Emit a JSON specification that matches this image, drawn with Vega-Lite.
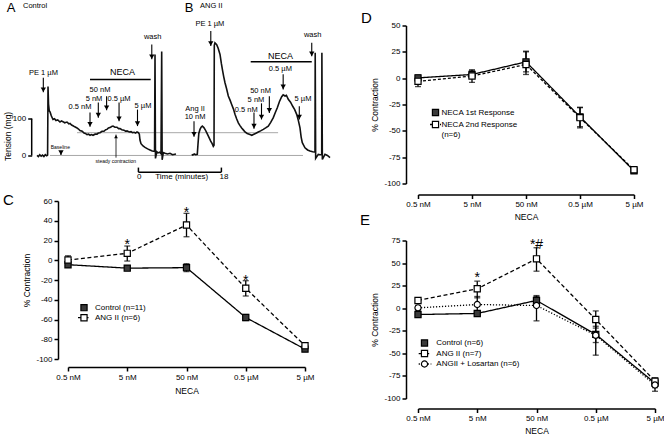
{
  "$schema": "https://vega.github.io/schema/vega-lite/v6.json",
  "padding": {"left": 3, "top": 1.5, "right": 0, "bottom": 0},
  "config": {
    "font": "Liberation Sans",
    "view": {"stroke": null},
    "axis": {"grid": false, "domainColor": "#000", "domainWidth": 1.5, "tickColor": "#000", "tickWidth": 1.5, "tickSize": 4, "labelFontSize": 8, "labelColor": "#000", "titleFontSize": 8.5, "titleFontWeight": "normal", "titleColor": "#000", "labelPadding": 2, "labelExpr": "replace(datum.label, '\u2212', '-')"},
    "title": {"fontWeight": "normal", "fontSize": 15, "anchor": "start", "frame": "group", "color": "#000"}
  },
  "datasets": {
    "traces": [
      {"p":"A","i":0,"t":0,"mg":0},{"p":"A","i":1,"t":0.3,"mg":-3},{"p":"A","i":2,"t":0.6,"mg":2},{"p":"A","i":3,"t":0.9,"mg":-2},{"p":"A","i":4,"t":1.2,"mg":1},{"p":"A","i":5,"t":1.5,"mg":-3},{"p":"A","i":6,"t":1.8,"mg":2},{"p":"A","i":7,"t":2.1,"mg":-1},{"p":"A","i":8,"t":2.3,"mg":1},{"p":"A","i":9,"t":2.39,"mg":188},{"p":"A","i":10,"t":2.5,"mg":140},{"p":"A","i":11,"t":2.65,"mg":122},{"p":"A","i":12,"t":2.85,"mg":118},{"p":"A","i":13,"t":3.1,"mg":108},{"p":"A","i":14,"t":3.47,"mg":98},{"p":"A","i":15,"t":3.8,"mg":100},{"p":"A","i":16,"t":4.12,"mg":95},{"p":"A","i":17,"t":4.5,"mg":97},{"p":"A","i":18,"t":4.99,"mg":91},{"p":"A","i":19,"t":5.3,"mg":94},{"p":"A","i":20,"t":5.64,"mg":92},{"p":"A","i":21,"t":6.0,"mg":89},{"p":"A","i":22,"t":6.51,"mg":91},{"p":"A","i":23,"t":6.9,"mg":86},{"p":"A","i":24,"t":7.16,"mg":87},{"p":"A","i":25,"t":7.5,"mg":83},{"p":"A","i":26,"t":7.81,"mg":81},{"p":"A","i":27,"t":8.2,"mg":78},{"p":"A","i":28,"t":8.68,"mg":75},{"p":"A","i":29,"t":9.0,"mg":72},{"p":"A","i":30,"t":9.33,"mg":68},{"p":"A","i":31,"t":9.8,"mg":66},{"p":"A","i":32,"t":10.2,"mg":61},{"p":"A","i":33,"t":10.5,"mg":60},{"p":"A","i":34,"t":10.85,"mg":57},{"p":"A","i":35,"t":11.2,"mg":58},{"p":"A","i":36,"t":11.5,"mg":55},{"p":"A","i":37,"t":11.8,"mg":57},{"p":"A","i":38,"t":12.15,"mg":55},{"p":"A","i":39,"t":12.6,"mg":58},{"p":"A","i":40,"t":13.02,"mg":58},{"p":"A","i":41,"t":13.3,"mg":61},{"p":"A","i":42,"t":13.67,"mg":62},{"p":"A","i":43,"t":14.1,"mg":66},{"p":"A","i":44,"t":14.53,"mg":66},{"p":"A","i":45,"t":14.9,"mg":70},{"p":"A","i":46,"t":15.18,"mg":71},{"p":"A","i":47,"t":15.5,"mg":75},{"p":"A","i":48,"t":15.84,"mg":76},{"p":"A","i":49,"t":16.2,"mg":79},{"p":"A","i":50,"t":16.49,"mg":80},{"p":"A","i":51,"t":16.9,"mg":77},{"p":"A","i":52,"t":17.35,"mg":77},{"p":"A","i":53,"t":17.7,"mg":73},{"p":"A","i":54,"t":18.0,"mg":73},{"p":"A","i":55,"t":18.4,"mg":70},{"p":"A","i":56,"t":18.87,"mg":69},{"p":"A","i":57,"t":19.2,"mg":66},{"p":"A","i":58,"t":19.52,"mg":67},{"p":"A","i":59,"t":20.0,"mg":64},{"p":"A","i":60,"t":20.39,"mg":65},{"p":"A","i":61,"t":20.7,"mg":62},{"p":"A","i":62,"t":21.04,"mg":63},{"p":"A","i":63,"t":21.4,"mg":61},{"p":"A","i":64,"t":21.69,"mg":64},{"p":"A","i":65,"t":22.0,"mg":62},{"p":"A","i":66,"t":22.2,"mg":58},{"p":"A","i":67,"t":22.34,"mg":42},{"p":"A","i":68,"t":22.56,"mg":32},{"p":"A","i":69,"t":23.0,"mg":26},{"p":"A","i":70,"t":23.43,"mg":22},{"p":"A","i":71,"t":24.0,"mg":18},{"p":"A","i":72,"t":24.51,"mg":15},{"p":"A","i":73,"t":25.0,"mg":12},{"p":"A","i":74,"t":25.5,"mg":11},{"p":"A","i":75,"t":25.6,"mg":275},{"p":"A","i":76,"t":25.7,"mg":-8},{"p":"A","i":77,"t":26.0,"mg":10},{"p":"A","i":78,"t":26.25,"mg":7},{"p":"A","i":79,"t":26.6,"mg":9},{"p":"A","i":80,"t":26.9,"mg":5},{"p":"A","i":81,"t":27.05,"mg":283},{"p":"A","i":82,"t":27.15,"mg":-12},{"p":"A","i":83,"t":27.4,"mg":8},{"p":"A","i":84,"t":27.77,"mg":6},{"p":"A","i":85,"t":28.3,"mg":4},{"p":"A","i":86,"t":28.85,"mg":6},{"p":"A","i":87,"t":29.4,"mg":2},{"p":"A","i":88,"t":30.15,"mg":4},
      {"p":"B","i":0,"t":33.56,"mg":3},{"p":"B","i":1,"t":33.8,"mg":1},{"p":"B","i":2,"t":34.1,"mg":4},{"p":"B","i":3,"t":34.4,"mg":2},{"p":"B","i":4,"t":34.77,"mg":3},{"p":"B","i":5,"t":34.92,"mg":30},{"p":"B","i":6,"t":35.1,"mg":60},{"p":"B","i":7,"t":35.36,"mg":71},{"p":"B","i":8,"t":35.6,"mg":77},{"p":"B","i":9,"t":35.86,"mg":80},{"p":"B","i":10,"t":36.2,"mg":76},{"p":"B","i":11,"t":36.5,"mg":70},{"p":"B","i":12,"t":36.81,"mg":62},{"p":"B","i":13,"t":37.2,"mg":52},{"p":"B","i":14,"t":37.68,"mg":39},{"p":"B","i":15,"t":38.0,"mg":32},{"p":"B","i":16,"t":38.24,"mg":25},{"p":"B","i":17,"t":38.4,"mg":28},{"p":"B","i":18,"t":38.46,"mg":300},{"p":"B","i":19,"t":38.6,"mg":307},{"p":"B","i":20,"t":38.98,"mg":302},{"p":"B","i":21,"t":39.3,"mg":292},{"p":"B","i":22,"t":39.7,"mg":275},{"p":"B","i":23,"t":40.0,"mg":250},{"p":"B","i":24,"t":40.28,"mg":230},{"p":"B","i":25,"t":40.5,"mg":215},{"p":"B","i":26,"t":40.78,"mg":198},{"p":"B","i":27,"t":41.1,"mg":183},{"p":"B","i":28,"t":41.5,"mg":162},{"p":"B","i":29,"t":41.9,"mg":150},{"p":"B","i":30,"t":42.23,"mg":139},{"p":"B","i":31,"t":42.6,"mg":127},{"p":"B","i":32,"t":42.95,"mg":112},{"p":"B","i":33,"t":43.3,"mg":100},{"p":"B","i":34,"t":43.67,"mg":89},{"p":"B","i":35,"t":44.0,"mg":82},{"p":"B","i":36,"t":44.4,"mg":75},{"p":"B","i":37,"t":44.8,"mg":69},{"p":"B","i":38,"t":45.12,"mg":64},{"p":"B","i":39,"t":45.6,"mg":60},{"p":"B","i":40,"t":46.2,"mg":57},{"p":"B","i":41,"t":46.6,"mg":55},{"p":"B","i":42,"t":46.92,"mg":57},{"p":"B","i":43,"t":47.4,"mg":60},{"p":"B","i":44,"t":48.0,"mg":64},{"p":"B","i":45,"t":48.5,"mg":67},{"p":"B","i":46,"t":49.09,"mg":71},{"p":"B","i":47,"t":49.6,"mg":75},{"p":"B","i":48,"t":50.17,"mg":80},{"p":"B","i":49,"t":50.7,"mg":90},{"p":"B","i":50,"t":51.26,"mg":103},{"p":"B","i":51,"t":51.7,"mg":117},{"p":"B","i":52,"t":52.13,"mg":130},{"p":"B","i":53,"t":52.6,"mg":147},{"p":"B","i":54,"t":53.08,"mg":160},{"p":"B","i":55,"t":53.4,"mg":165},{"p":"B","i":56,"t":53.8,"mg":162},{"p":"B","i":57,"t":54.1,"mg":164},{"p":"B","i":58,"t":54.51,"mg":153},{"p":"B","i":59,"t":55.0,"mg":145},{"p":"B","i":60,"t":55.47,"mg":134},{"p":"B","i":61,"t":55.9,"mg":125},{"p":"B","i":62,"t":56.33,"mg":112},{"p":"B","i":63,"t":56.7,"mg":95},{"p":"B","i":64,"t":57.05,"mg":75},{"p":"B","i":65,"t":57.3,"mg":50},{"p":"B","i":66,"t":57.55,"mg":35},{"p":"B","i":67,"t":58.13,"mg":21},{"p":"B","i":68,"t":58.7,"mg":15},{"p":"B","i":69,"t":59.22,"mg":12},{"p":"B","i":70,"t":59.8,"mg":10},{"p":"B","i":71,"t":60.3,"mg":9},{"p":"B","i":72,"t":60.35,"mg":280},{"p":"B","i":73,"t":60.45,"mg":-8},{"p":"B","i":74,"t":61.02,"mg":3},{"p":"B","i":75,"t":61.4,"mg":2},{"p":"B","i":76,"t":61.76,"mg":2},{"p":"B","i":77,"t":61.8,"mg":280},{"p":"B","i":78,"t":61.9,"mg":-11},{"p":"B","i":79,"t":62.47,"mg":3},{"p":"B","i":80,"t":63.0,"mg":0},{"p":"B","i":81,"t":63.56,"mg":-6}
    ],
    "abRefs": [{"t": 8.68, "t2": 52.3, "mg": 62}, {"t": 2.82, "t2": 57.7, "mg": 0}],
    "abSegs": [
      {"t": -1.15, "t2": -1.15, "mg": 0, "mg2": 100},
      {"t": 11.5, "t2": 24.66, "mg": 207, "mg2": 207},
      {"t": 46.36, "t2": 59.6, "mg": 255, "mg2": 255},
      {"t": 22, "t2": 40, "mg": -45.5, "mg2": -45.5},
      {"t": 22, "t2": 22, "mg": -45.5, "mg2": -33},
      {"t": 40, "t2": 40, "mg": -45.5, "mg2": -33}
    ],
    "arrowsDown": [
      {"t": 1.37, "mg": 172, "mg2": 212},
      {"t": 11.5, "mg": 78, "mg2": 117},
      {"t": 13.3, "mg": 103, "mg2": 144},
      {"t": 15.1, "mg": 123, "mg2": 161},
      {"t": 17.8, "mg": 93, "mg2": 144},
      {"t": 21.8, "mg": 80, "mg2": 125},
      {"t": 24.9, "mg": 262, "mg2": 302},
      {"t": 5.2, "mg": 1, "mg2": 12},
      {"t": 37.7, "mg": 298, "mg2": 339},
      {"t": 34.06, "mg": 51, "mg2": 93},
      {"t": 53.4, "mg": 180, "mg2": 221},
      {"t": 50.4, "mg": 116, "mg2": 161},
      {"t": 48.7, "mg": 98, "mg2": 142},
      {"t": 47.07, "mg": 73, "mg2": 117},
      {"t": 56.9, "mg": 98, "mg2": 134},
      {"t": 59.6, "mg": 270, "mg2": 307}
    ],
    "arrowsUp": [{"t": 17.14, "mg": 57, "mg2": -6}],
    "abLabels": [
      {"t": 1.4, "mg": 225, "s": "PE 1 µM"},
      {"t": 9.33, "mg": 131, "s": "0.5 nM"},
      {"t": 12.36, "mg": 155, "s": "5 nM"},
      {"t": 13.67, "mg": 178, "s": "50 nM"},
      {"t": 17.79, "mg": 155, "s": "0.5 µM"},
      {"t": 23.0, "mg": 136, "s": "5 µM"},
      {"t": 25.1, "mg": 323, "s": "wash"},
      {"t": 37.5, "mg": 357, "s": "PE 1 µM"},
      {"t": 34.3, "mg": 127, "s": "Ang II"},
      {"t": 34.3, "mg": 105, "s": "10 nM"},
      {"t": 52.8, "mg": 236, "s": "0.5 µM"},
      {"t": 48.5, "mg": 175, "s": "50 nM"},
      {"t": 47.5, "mg": 151, "s": "5 nM"},
      {"t": 45.4, "mg": 125, "s": "0.5 nM"},
      {"t": 57.7, "mg": 155, "s": "5 µM"},
      {"t": 59.8, "mg": 328, "s": "wash"}
    ],
    "abNeca": [{"t": 18.55, "mg": 226, "s": "NECA"}, {"t": 52.8, "mg": 272, "s": "NECA"}],
    "abLetters": [{"t": -5.64, "mg": 403, "s": "A"}, {"t": 32.97, "mg": 403, "s": "B"}],
    "abNames": [{"t": -3.04, "mg": 406, "s": "Control"}, {"t": 35.36, "mg": 406, "s": "ANG II"}],
    "abSmall": [{"t": 5.06, "mg": 23, "s": "Baseline"}, {"t": 17.1, "mg": -15.5, "s": "steady contraction"}],
    "abTime": [{"t": 22.2, "mg": -59, "s": "0"}, {"t": 40.56, "mg": -59, "s": "18"}, {"t": 31.4, "mg": -59, "s": "Time (minutes)"}],
    "abYTitle": [{"t": -6.29, "mg": 52, "s": "Tension (mg)"}],
    "C": [
      {"series": "Control (n=11)", "conc": "0.5 nM", "k": 0, "y": -4.5, "lo": -7, "hi": -2},
      {"series": "Control (n=11)", "conc": "5 nM", "k": 1, "y": -8, "lo": -10, "hi": -6},
      {"series": "Control (n=11)", "conc": "50 nM", "k": 2, "y": -7.5, "lo": -11.5, "hi": -3.5},
      {"series": "Control (n=11)", "conc": "0.5 µM", "k": 3, "y": -58, "lo": -61, "hi": -55},
      {"series": "Control (n=11)", "conc": "5 µM", "k": 4, "y": -90, "lo": -92, "hi": -88},
      {"series": "ANG II (n=6)", "conc": "0.5 nM", "k": 0, "y": 0.2, "lo": -4, "hi": 4.5},
      {"series": "ANG II (n=6)", "conc": "5 nM", "k": 1, "y": 7, "lo": -0.8, "hi": 14.4},
      {"series": "ANG II (n=6)", "conc": "50 nM", "k": 2, "y": 35.7, "lo": 23.8, "hi": 47.5},
      {"series": "ANG II (n=6)", "conc": "0.5 µM", "k": 3, "y": -28.4, "lo": -36.2, "hi": -20.7},
      {"series": "ANG II (n=6)", "conc": "5 µM", "k": 4, "y": -86.5, "lo": -89, "hi": -84}
    ],
    "starsC": [{"conc": "5 nM", "y": 19, "s": "*"}, {"conc": "50 nM", "y": 52, "s": "*"}, {"conc": "0.5 µM", "y": -17, "s": "*"}],
    "legC": [{"conc": "0.5 nM", "series": "Control (n=11)", "y": -48, "s": "Control (n=11)"}, {"conc": "0.5 nM", "series": "ANG II (n=6)", "y": -58.2, "s": "ANG II (n=6)"}],
    "legCline": [{"conc": "0.5 nM", "series": "ANG II (n=6)", "y": -58.2}],
    "D": [
      {"series": "NECA 1st Response", "conc": "0.5 nM", "k": 0, "y": 0.3, "lo": -2.5, "hi": 3},
      {"series": "NECA 1st Response", "conc": "5 nM", "k": 1, "y": 3.5, "lo": 0, "hi": 7},
      {"series": "NECA 1st Response", "conc": "50 nM", "k": 2, "y": 15.5, "lo": 6, "hi": 25},
      {"series": "NECA 1st Response", "conc": "0.5 µM", "k": 3, "y": -36.7, "lo": -46, "hi": -28},
      {"series": "NECA 1st Response", "conc": "5 µM", "k": 4, "y": -88, "lo": -90, "hi": -86},
      {"series": "NECA 2nd Response", "conc": "0.5 nM", "k": 0, "y": -3, "lo": -8, "hi": 2},
      {"series": "NECA 2nd Response", "conc": "5 nM", "k": 1, "y": 2, "lo": -4, "hi": 8},
      {"series": "NECA 2nd Response", "conc": "50 nM", "k": 2, "y": 13, "lo": 3.5, "hi": 25.6},
      {"series": "NECA 2nd Response", "conc": "0.5 µM", "k": 3, "y": -37.5, "lo": -47.2, "hi": -27.6},
      {"series": "NECA 2nd Response", "conc": "5 µM", "k": 4, "y": -87, "lo": -89.5, "hi": -85}
    ],
    "legD": [{"conc": "0.5 nM", "series": "NECA 1st Response", "y": -32.6}, {"conc": "0.5 nM", "series": "NECA 2nd Response", "y": -44}],
    "legDline": [{"conc": "0.5 nM", "series": "NECA 2nd Response", "y": -44}],
    "legDtext": [{"conc": "0.5 nM", "y": -32.6, "s": "NECA 1st Response"}, {"conc": "0.5 nM", "y": -44, "s": "NECA 2nd Response"}, {"conc": "0.5 nM", "y": -54.4, "s": "(n=6)"}],
    "E": [
      {"series": "Control (n=6)", "conc": "0.5 nM", "k": 0, "y": -7, "lo": -9, "hi": -5},
      {"series": "Control (n=6)", "conc": "5 nM", "k": 1, "y": -5.8, "lo": -8, "hi": -3.5},
      {"series": "Control (n=6)", "conc": "50 nM", "k": 2, "y": 8.6, "lo": 4, "hi": 13},
      {"series": "Control (n=6)", "conc": "0.5 µM", "k": 3, "y": -29, "lo": -38, "hi": -20},
      {"series": "Control (n=6)", "conc": "5 µM", "k": 4, "y": -83, "lo": -88, "hi": -78},
      {"series": "ANG II (n=7)", "conc": "0.5 nM", "k": 0, "y": 8.6, "lo": 6, "hi": 11},
      {"series": "ANG II (n=7)", "conc": "5 nM", "k": 1, "y": 21.5, "lo": 11.5, "hi": 30},
      {"series": "ANG II (n=7)", "conc": "50 nM", "k": 2, "y": 54.7, "lo": 41, "hi": 67},
      {"series": "ANG II (n=7)", "conc": "0.5 µM", "k": 3, "y": -12.5, "lo": -22, "hi": -3},
      {"series": "ANG II (n=7)", "conc": "5 µM", "k": 4, "y": -80.8, "lo": -84, "hi": -77},
      {"series": "ANGII + Losartan (n=6)", "conc": "0.5 nM", "k": 0, "y": 0.4, "lo": -2, "hi": 3},
      {"series": "ANGII + Losartan (n=6)", "conc": "5 nM", "k": 1, "y": 4.1, "lo": -5, "hi": 13},
      {"series": "ANGII + Losartan (n=6)", "conc": "50 nM", "k": 2, "y": 3, "lo": -14, "hi": 14},
      {"series": "ANGII + Losartan (n=6)", "conc": "0.5 µM", "k": 3, "y": -30, "lo": -52, "hi": -10},
      {"series": "ANGII + Losartan (n=6)", "conc": "5 µM", "k": 4, "y": -85, "lo": -92, "hi": -79}
    ],
    "starsE": [{"conc": "5 nM", "y": 37.4, "s": "*"}, {"conc": "50 nM", "y": 74, "s": "*#"}],
    "legE": [{"conc": "0.5 nM", "series": "Control (n=6)", "y": -38.5, "s": "Control (n=6)"}, {"conc": "0.5 nM", "series": "ANG II (n=7)", "y": -50.2, "s": "ANG II (n=7)"}, {"conc": "0.5 nM", "series": "ANGII + Losartan (n=6)", "y": -61.8, "s": "ANGII + Losartan (n=6)"}],
    "legEline": [{"conc": "0.5 nM", "series": "ANG II (n=7)", "y": -50.2}, {"conc": "0.5 nM", "series": "ANGII + Losartan (n=6)", "y": -61.8}]
  },
  "concat": [
    {
      "vconcat": [
        {
          "width": 265, "height": 157.5,
          "encoding": {
            "x": {"field": "t", "type": "quantitative", "scale": {"domain": [6.725, 64.21], "nice": false, "zero": false}, "axis": null},
            "y": {"field": "mg", "type": "quantitative", "scale": {"domain": [-75, 354], "nice": false, "zero": false}, "axis": {"values": [0, 100], "domain": false, "offset": 36.3, "title": null}}
          },
          "layer": [
            {"data": {"name": "abRefs"}, "mark": {"type": "rule", "color": "#a8a8a8", "strokeWidth": 1}, "encoding": {"x2": {"field": "t2"}}},
            {"data": {"name": "traces"}, "mark": {"type": "line", "color": "#111", "strokeWidth": 1.6}, "encoding": {"detail": {"field": "p", "type": "nominal"}, "order": {"field": "i", "type": "quantitative"}}},
            {"data": {"name": "abSegs"}, "mark": {"type": "rule", "color": "#000", "strokeWidth": 1.5}, "encoding": {"x2": {"field": "t2"}, "y2": {"field": "mg2"}}},
            {"data": {"name": "arrowsDown"}, "mark": {"type": "rule", "color": "#000", "strokeWidth": 1.1}, "encoding": {"y2": {"field": "mg2"}}},
            {"data": {"name": "arrowsDown"}, "mark": {"type": "point", "shape": "triangle-down", "size": 28, "filled": true, "color": "#000", "opacity": 1, "yOffset": -2.5}, "encoding": {}},
            {"data": {"name": "arrowsUp"}, "mark": {"type": "rule", "color": "#000", "strokeWidth": 0.8}, "encoding": {"y2": {"field": "mg2"}}},
            {"data": {"name": "arrowsUp"}, "mark": {"type": "point", "shape": "triangle-up", "size": 14, "filled": true, "color": "#000", "opacity": 1, "yOffset": 2}, "encoding": {}},
            {"data": {"name": "abLabels"}, "mark": {"type": "text", "fontSize": 7.5, "baseline": "middle", "color": "#000"}, "encoding": {"text": {"field": "s"}}},
            {"data": {"name": "abNeca"}, "mark": {"type": "text", "fontSize": 9, "baseline": "middle", "color": "#000"}, "encoding": {"text": {"field": "s"}}},
            {"data": {"name": "abLetters"}, "mark": {"type": "text", "fontSize": 13, "baseline": "middle", "color": "#000"}, "encoding": {"text": {"field": "s"}}},
            {"data": {"name": "abNames"}, "mark": {"type": "text", "fontSize": 7.5, "baseline": "middle", "align": "left", "color": "#000"}, "encoding": {"text": {"field": "s"}}},
            {"data": {"name": "abSmall"}, "mark": {"type": "text", "fontSize": 5, "baseline": "middle", "color": "#000"}, "encoding": {"text": {"field": "s"}}},
            {"data": {"name": "abTime"}, "mark": {"type": "text", "fontSize": 8, "baseline": "middle", "color": "#000"}, "encoding": {"text": {"field": "s"}}},
            {"data": {"name": "abYTitle"}, "mark": {"type": "text", "fontSize": 8.5, "baseline": "middle", "angle": 270, "color": "#000"}, "encoding": {"text": {"field": "s"}}}
          ]
        },
        {
          "width": 237, "height": 158,
          "title": {"text": "C", "dx": -65, "dy": 10.5, "offset": 0, "baseline": "top"},
          "data": {"name": "C"},
          "encoding": {
            "x": {"field": "conc", "type": "nominal", "scale": {"type": "point", "padding": 0, "domain": ["0.5 nM", "5 nM", "50 nM", "0.5 µM", "5 µM"]}, "axis": {"title": "NECA", "labelAngle": 0, "offset": 8, "titlePadding": 5}},
            "y": {"field": "y", "type": "quantitative", "scale": {"domain": [-100, 60], "nice": false, "zero": false}, "axis": {"values": [-100, -80, -60, -40, -20, 0, 20, 40, 60], "title": "% Contraction", "offset": 10, "labelOverlap": false}}
          },
          "layer": [
            {"mark": {"type": "line", "color": "#000", "strokeWidth": 1.3}, "encoding": {"strokeDash": {"field": "series", "type": "nominal", "scale": {"domain": ["Control (n=11)", "ANG II (n=6)"], "range": [[1, 0], [4, 2.5]]}, "legend": null}, "order": {"field": "k", "type": "quantitative"}}},
            {"mark": {"type": "rule", "color": "#000", "strokeWidth": 1.3}, "encoding": {"y": {"field": "lo", "type": "quantitative", "axis": {"values": [-100, -80, -60, -40, -20, 0, 20, 40, 60], "title": "% Contraction", "offset": 10, "labelOverlap": false}}, "y2": {"field": "hi"}}},
            {"mark": {"type": "tick", "color": "#000", "size": 6, "thickness": 1.3}, "encoding": {"y": {"field": "lo", "type": "quantitative", "axis": {"values": [-100, -80, -60, -40, -20, 0, 20, 40, 60], "title": "% Contraction", "offset": 10, "labelOverlap": false}}}},
            {"mark": {"type": "tick", "color": "#000", "size": 6, "thickness": 1.3}, "encoding": {"y": {"field": "hi", "type": "quantitative", "axis": {"values": [-100, -80, -60, -40, -20, 0, 20, 40, 60], "title": "% Contraction", "offset": 10, "labelOverlap": false}}}},
            {"mark": {"type": "point", "shape": "square", "size": 38, "filled": true, "stroke": "#000", "strokeWidth": 1.2, "opacity": 1}, "encoding": {"fill": {"field": "series", "type": "nominal", "scale": {"domain": ["Control (n=11)", "ANG II (n=6)"], "range": ["#3a3a3a", "#ffffff"]}, "legend": null}}},
            {"data": {"name": "starsC"}, "mark": {"type": "text", "fontSize": 14, "dy": 4, "color": "#000"}, "encoding": {"text": {"field": "s"}}},
            {"data": {"name": "legCline"}, "mark": {"type": "point", "shape": "M-1,0H1", "size": 169, "filled": false, "stroke": "#000", "strokeWidth": 1.3, "opacity": 1, "xOffset": 16.5}, "encoding": {"strokeDash": {"field": "series", "type": "nominal", "legend": null}}},
            {"data": {"name": "legC"}, "mark": {"type": "point", "shape": "square", "size": 38, "filled": true, "stroke": "#000", "strokeWidth": 1.2, "opacity": 1, "xOffset": 16}, "encoding": {"fill": {"field": "series", "type": "nominal", "legend": null}}},
            {"data": {"name": "legC"}, "mark": {"type": "text", "fontSize": 8, "align": "left", "baseline": "middle", "dx": 27, "color": "#000"}, "encoding": {"text": {"field": "s"}}}
          ]
        }
      ],
      "spacing": 17.5,
      "bounds": "flush",
      "resolve": {"scale": {"fill": "independent", "shape": "independent", "strokeDash": "independent"}}
    },
    {
      "vconcat": [
        {
          "width": 216, "height": 158,
          "title": {"text": "D", "dx": -57, "dy": 4, "offset": 0, "baseline": "top"},
          "data": {"name": "D"},
          "encoding": {
            "x": {"field": "conc", "type": "nominal", "scale": {"type": "point", "padding": 0, "domain": ["0.5 nM", "5 nM", "50 nM", "0.5 µM", "5 µM"]}, "axis": {"title": "NECA", "labelAngle": 0, "offset": 11, "titlePadding": 4}},
            "y": {"field": "y", "type": "quantitative", "scale": {"domain": [-100, 50], "nice": false, "zero": false}, "axis": {"values": [-100, -75, -50, -25, 0, 25, 50], "title": "% Contraction", "offset": 12, "labelOverlap": false}}
          },
          "layer": [
            {"mark": {"type": "line", "color": "#000", "strokeWidth": 1.3}, "encoding": {"strokeDash": {"field": "series", "type": "nominal", "scale": {"domain": ["NECA 1st Response", "NECA 2nd Response"], "range": [[1, 0], [3, 2]]}, "legend": null}, "order": {"field": "k", "type": "quantitative"}}},
            {"mark": {"type": "rule", "color": "#000", "strokeWidth": 1.3}, "encoding": {"y": {"field": "lo", "type": "quantitative", "axis": {"values": [-100, -75, -50, -25, 0, 25, 50], "title": "% Contraction", "offset": 12, "labelOverlap": false}}, "y2": {"field": "hi"}}},
            {"mark": {"type": "tick", "color": "#000", "size": 6, "thickness": 1.3}, "encoding": {"y": {"field": "lo", "type": "quantitative", "axis": {"values": [-100, -75, -50, -25, 0, 25, 50], "title": "% Contraction", "offset": 12, "labelOverlap": false}}}},
            {"mark": {"type": "tick", "color": "#000", "size": 6, "thickness": 1.3}, "encoding": {"y": {"field": "hi", "type": "quantitative", "axis": {"values": [-100, -75, -50, -25, 0, 25, 50], "title": "% Contraction", "offset": 12, "labelOverlap": false}}}},
            {"mark": {"type": "point", "shape": "square", "size": 38, "filled": true, "stroke": "#000", "strokeWidth": 1.2, "opacity": 1}, "encoding": {"fill": {"field": "series", "type": "nominal", "scale": {"domain": ["NECA 1st Response", "NECA 2nd Response"], "range": ["#3a3a3a", "#ffffff"]}, "legend": null}}},
            {"data": {"name": "legDline"}, "mark": {"type": "point", "shape": "M-1,0H1", "size": 121, "filled": false, "stroke": "#000", "strokeWidth": 1.3, "opacity": 1, "xOffset": 17.5}, "encoding": {"strokeDash": {"field": "series", "type": "nominal", "legend": null}}},
            {"data": {"name": "legD"}, "mark": {"type": "point", "shape": "square", "size": 38, "filled": true, "stroke": "#000", "strokeWidth": 1.2, "opacity": 1, "xOffset": 17.5}, "encoding": {"fill": {"field": "series", "type": "nominal", "legend": null}}},
            {"data": {"name": "legDtext"}, "mark": {"type": "text", "fontSize": 8, "align": "left", "baseline": "middle", "dx": 23.5, "color": "#000"}, "encoding": {"text": {"field": "s"}}}
          ]
        },
        {
          "width": 237, "height": 158,
          "title": {"text": "E", "dx": -58, "dy": -8.5, "offset": 0, "baseline": "top"},
          "data": {"name": "E"},
          "encoding": {
            "x": {"field": "conc", "type": "nominal", "scale": {"type": "point", "padding": 0, "domain": ["0.5 nM", "5 nM", "50 nM", "0.5 µM", "5 µM"]}, "axis": {"title": "NECA", "labelAngle": 0, "offset": 10, "titlePadding": 4}},
            "y": {"field": "y", "type": "quantitative", "scale": {"domain": [-100, 75], "nice": false, "zero": false}, "axis": {"values": [-100, -75, -50, -25, 0, 25, 50, 75], "title": "% Contraction", "offset": 12, "labelOverlap": false}}
          },
          "layer": [
            {"mark": {"type": "line", "color": "#000", "strokeWidth": 1.3}, "encoding": {"strokeDash": {"field": "series", "type": "nominal", "scale": {"domain": ["Control (n=6)", "ANG II (n=7)", "ANGII + Losartan (n=6)"], "range": [[1, 0], [4, 2.5], [1.2, 1.8]]}, "legend": null}, "order": {"field": "k", "type": "quantitative"}}},
            {"mark": {"type": "rule", "color": "#000", "strokeWidth": 1.3}, "encoding": {"y": {"field": "lo", "type": "quantitative", "axis": {"values": [-100, -75, -50, -25, 0, 25, 50, 75], "title": "% Contraction", "offset": 12, "labelOverlap": false}}, "y2": {"field": "hi"}}},
            {"mark": {"type": "tick", "color": "#000", "size": 6, "thickness": 1.3}, "encoding": {"y": {"field": "lo", "type": "quantitative", "axis": {"values": [-100, -75, -50, -25, 0, 25, 50, 75], "title": "% Contraction", "offset": 12, "labelOverlap": false}}}},
            {"mark": {"type": "tick", "color": "#000", "size": 6, "thickness": 1.3}, "encoding": {"y": {"field": "hi", "type": "quantitative", "axis": {"values": [-100, -75, -50, -25, 0, 25, 50, 75], "title": "% Contraction", "offset": 12, "labelOverlap": false}}}},
            {"mark": {"type": "point", "size": 38, "filled": true, "stroke": "#000", "strokeWidth": 1.2, "opacity": 1}, "encoding": {"fill": {"field": "series", "type": "nominal", "scale": {"domain": ["Control (n=6)", "ANG II (n=7)", "ANGII + Losartan (n=6)"], "range": ["#3a3a3a", "#ffffff", "#ffffff"]}, "legend": null}, "shape": {"field": "series", "type": "nominal", "scale": {"domain": ["Control (n=6)", "ANG II (n=7)", "ANGII + Losartan (n=6)"], "range": ["square", "square", "circle"]}, "legend": null}}},
            {"data": {"name": "starsE"}, "mark": {"type": "text", "fontSize": 14, "dy": 4, "color": "#000"}, "encoding": {"text": {"field": "s"}}},
            {"data": {"name": "legEline"}, "mark": {"type": "point", "shape": "M-1,0H1", "size": 159, "filled": false, "stroke": "#000", "strokeWidth": 1.3, "opacity": 1, "xOffset": 7}, "encoding": {"strokeDash": {"field": "series", "type": "nominal", "legend": null}}},
            {"data": {"name": "legE"}, "mark": {"type": "point", "size": 38, "filled": true, "stroke": "#000", "strokeWidth": 1.2, "opacity": 1, "xOffset": 6.5}, "encoding": {"fill": {"field": "series", "type": "nominal", "legend": null}, "shape": {"field": "series", "type": "nominal", "legend": null}}},
            {"data": {"name": "legE"}, "mark": {"type": "text", "fontSize": 8, "align": "left", "baseline": "middle", "dx": 18.3, "color": "#000"}, "encoding": {"text": {"field": "s"}}}
          ]
        }
      ],
      "spacing": 57,
      "bounds": "flush",
      "resolve": {"scale": {"fill": "independent", "shape": "independent", "strokeDash": "independent"}}
    }
  ],
  "columns": 2,
  "align": "none",
  "spacing": 26,
  "resolve": {"scale": {"fill": "independent", "shape": "independent", "strokeDash": "independent"}}
}
